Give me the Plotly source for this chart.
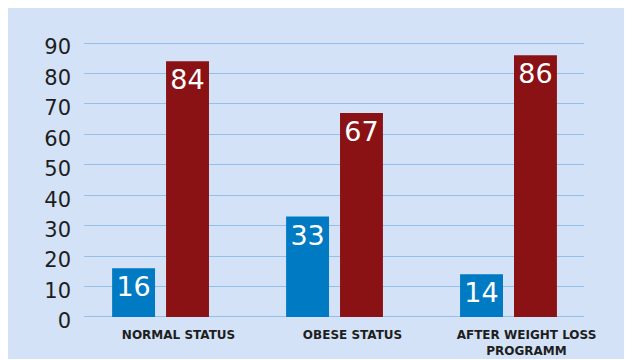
import plotly.graph_objects as go

# Dados do gráfico
categories = ["NORMAL STATUS", "OBESE STATUS", "AFTER WEIGHT LOSS<br>PROGRAMM"]
blue_values = [16, 33, 14]
red_values = [84, 67, 86]
y_ticks = [0, 10, 20, 30, 40, 50, 60, 70, 80, 90]

BG = "#D3E2F6"
GRID = "#93BFE8"
BLUE = "#007AC2"
RED = "#8B1214"
TEXT = "#1E1E1E"

fig = go.Figure()
for vals, color in [(blue_values, BLUE), (red_values, RED)]:
    fig.add_trace(go.Bar(
        x=categories,
        y=vals,
        marker=dict(color=color, line=dict(width=0)),
        text=[str(v) for v in vals],
        textposition="inside",
        insidetextanchor="end",
        textfont=dict(family="DejaVu Sans", size=27, color="white"),
        constraintext="none",
        cliponaxis=False,
        showlegend=False,
        hoverinfo="skip",
    ))

fig.update_layout(
    width=624, height=351,
    margin=dict(l=76, r=48, t=29, b=39),
    paper_bgcolor=BG,
    plot_bgcolor=BG,
    barmode="group",
    bargap=0.38,
    bargroupgap=0.204,
    xaxis=dict(
        range=[-0.44, 2.434],
        automargin=False,
        showgrid=False, zeroline=False, showline=False,
        ticks="", ticklabelshift=18, ticklabelstandoff=6,
        tickfont=dict(family="DejaVu Sans", size=12, color=TEXT, weight="bold"),
    ),
    yaxis=dict(
        range=[-1, 92],
        tickvals=y_ticks,
        automargin=False,
        showgrid=True, gridcolor=GRID, gridwidth=1.2,
        zeroline=False, showline=False,
        ticks="", ticklabelstandoff=12, ticklabelshift=4,
        tickfont=dict(family="DejaVu Sans", size=21, color=TEXT),
    ),
)

fig.write_html("out.html")
